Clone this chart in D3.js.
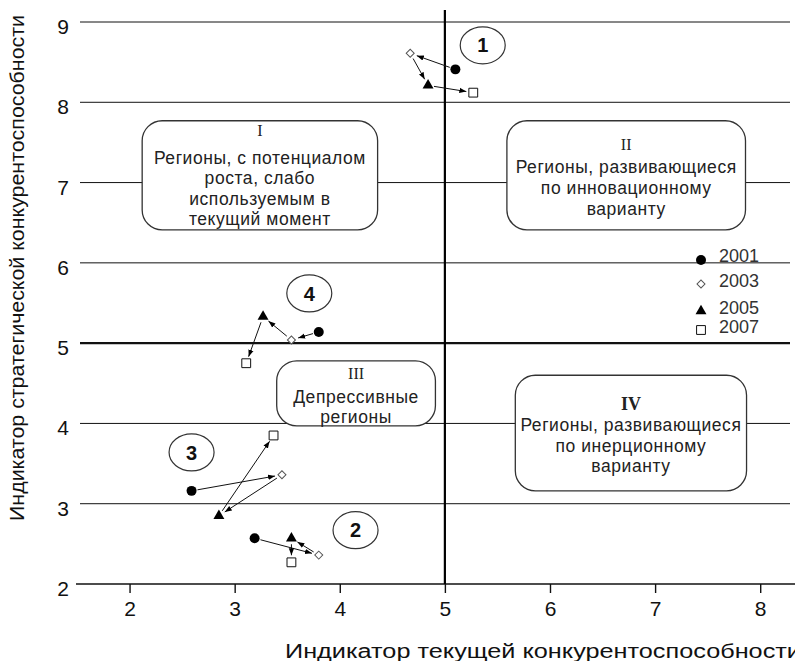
<!DOCTYPE html>
<html>
<head>
<meta charset="utf-8">
<script src="https://cdn.jsdelivr.net/npm/d3@7"></script>
<style>
  body { margin: 0; background: #fff; }
  svg { display: block; font-family: "Liberation Sans", Arial, sans-serif; }
</style>
</head>
<body>
<svg id="chart"></svg>
<script>
// ---- data ----
var years = [2001, 2003, 2005, 2007];
var regionIds = ["1", "2", "3", "4"];

// indicator of current competitiveness (x) per year
var region1X = [5.10, 4.67, 4.84, 5.27];
var region2X = [3.19, 3.80, 3.54, 3.54];
var region3X = [2.59, 3.45, 2.85, 3.37];
var region4X = [3.80, 3.54, 3.27, 3.11];

// indicator of strategic competitiveness (y) per year
var region1Y = [8.41, 8.61, 8.21, 8.12];
var region2Y = [2.57, 2.36, 2.57, 2.27];
var region3Y = [3.16, 3.36, 2.85, 3.85];
var region4Y = [5.14, 5.04, 5.33, 4.75];

var xTicks = [2, 3, 4, 5, 6, 7, 8];
var yTicks = [2, 3, 4, 5, 6, 7, 8, 9];
var xSplit = 5, ySplit = 5;

var quadNumerals = ["I", "II", "III", "IV"];
var quadText = [
  ["Регионы, с потенциалом", "роста, слабо", "используемым в", "текущий момент"],
  ["Регионы, развивающиеся", "по инновационному", "варианту"],
  ["Депрессивные", "регионы"],
  ["Регионы, развивающиеся", "по инерционному", "варианту"]
];

var xTitle = "Индикатор текущей конкурентоспособности";
var yTitle = "Индикатор стратегической конкурентоспособности";

// ---- layout ----
var W = 795, H = 661;

var x = d3.scaleLinear().domain([1.5, 8.35]).range([77, 797]);
var y = d3.scaleLinear().domain([2, 9]).range([584, 22]);

// annotation boxes, in data units (left, right, top, bottom)
var boxes = [
  {l: 2.12, r: 4.36, t: 7.77, b: 6.41, numY: 10, lineY: 37, step: 20.5, bold: false},
  {l: 5.59, r: 7.86, t: 7.77, b: 6.41, numY: 24, lineY: 46, step: 21, bold: false},
  {l: 3.40, r: 4.91, t: 4.78, b: 3.97, numY: 13, lineY: 36, step: 20, bold: false},
  {l: 5.67, r: 7.87, t: 4.60, b: 3.16, numY: 28, lineY: 50, step: 20.5, bold: true}
];
// numbered ellipse labels, data units
var labelX = [5.36, 4.15, 2.59, 3.71];
var labelY = [8.71, 2.67, 3.64, 5.62];

var series = regionIds.map(function(id, i) {
  var xs = [region1X, region2X, region3X, region4X][i];
  var ys = [region1Y, region2Y, region3Y, region4Y][i];
  return {id: id, pts: years.map(function(yr, j) { return {year: yr, x: xs[j], y: ys[j]}; })};
});

var svg = d3.select("#chart").attr("width", W).attr("height", H);

svg.append("defs").append("marker")
  .attr("id", "arrow")
  .attr("viewBox", "0 0 10 10")
  .attr("refX", 10).attr("refY", 5)
  .attr("markerWidth", 7).attr("markerHeight", 7)
  .attr("orient", "auto")
  .append("path")
  .attr("d", "M0,1.2L10,5L0,8.8Z")
  .attr("fill", "#000");

var gridLeft = 80, gridRight = 790;

// horizontal grid lines
svg.append("g").selectAll("line")
  .data(yTicks.filter(function(d) { return d > 2; }))
  .enter().append("line")
  .attr("x1", gridLeft).attr("x2", gridRight)
  .attr("y1", function(d) { return y(d); })
  .attr("y2", function(d) { return y(d); })
  .attr("stroke", "#111")
  .attr("stroke-width", function(d) { return d === ySplit ? 2.2 : 1; });

// bottom axis line
svg.append("line")
  .attr("x1", 76).attr("x2", W)
  .attr("y1", y(2)).attr("y2", y(2))
  .attr("stroke", "#111").attr("stroke-width", 1.6);

// vertical split line
svg.append("line")
  .attr("x1", x(xSplit)).attr("x2", x(xSplit))
  .attr("y1", 10).attr("y2", y(2))
  .attr("stroke", "#000").attr("stroke-width", 2.2);

// x axis
var gx = svg.append("g")
  .attr("transform", "translate(0," + y(2) + ")")
  .call(d3.axisBottom(x).tickValues(xTicks).tickSize(9).tickPadding(8).tickFormat(d3.format("d")));
gx.select(".domain").remove();
gx.selectAll(".tick line").attr("stroke", "#111").attr("stroke-width", 1.4);
gx.selectAll("text").style("font-size", "21px").attr("fill", "#111");

// y axis labels
var gy = svg.append("g")
  .attr("transform", "translate(" + gridLeft + ",0)")
  .call(d3.axisLeft(y).tickValues(yTicks).tickSize(0).tickPadding(11).tickFormat(d3.format("d")));
gy.select(".domain").remove();
gy.selectAll("text").style("font-size", "21px").attr("fill", "#111").attr("dy", "0.55em");

// axis titles
svg.append("text")
  .attr("x", 285).attr("y", 658)
  .attr("textLength", 516).attr("lengthAdjust", "spacingAndGlyphs")
  .style("font-size", "20px").attr("fill", "#111")
  .text(xTitle);

svg.append("text")
  .attr("transform", "translate(24," + ((15 + 521) / 2) + ") rotate(-90)")
  .attr("text-anchor", "middle")
  .attr("textLength", 506).attr("lengthAdjust", "spacingAndGlyphs")
  .style("font-size", "19.5px").attr("fill", "#111")
  .text(yTitle);

// quadrant boxes
boxes.forEach(function(b, i) {
  var g = svg.append("g");
  var left = x(b.l), right = x(b.r), top = y(b.t), bottom = y(b.b);
  var cx = (left + right) / 2;
  g.append("rect")
    .attr("x", left).attr("y", top)
    .attr("width", right - left).attr("height", bottom - top)
    .attr("rx", 20).attr("ry", 20)
    .attr("fill", "#fff").attr("stroke", "#333").attr("stroke-width", 1.3);
  g.append("text")
    .attr("x", cx).attr("y", top + b.numY)
    .attr("text-anchor", "middle").attr("dy", "0.35em")
    .style("font-family", "'Liberation Serif', 'DejaVu Serif', serif")
    .style("font-size", b.bold ? "18px" : "16px")
    .style("font-weight", b.bold ? "bold" : "normal")
    .attr("fill", "#222")
    .text(quadNumerals[i]);
  g.selectAll("text.line")
    .data(quadText[i])
    .enter().append("text")
    .attr("class", "line")
    .attr("x", cx)
    .attr("y", function(d, k) { return top + b.lineY + k * b.step; })
    .attr("text-anchor", "middle").attr("dy", "0.35em")
    .style("font-size", "17.5px").style("letter-spacing", "0.55px").attr("fill", "#222")
    .text(function(d) { return d; });
});

// arrows between consecutive years
var arrowG = svg.append("g");
series.forEach(function(s) {
  for (var j = 0; j < s.pts.length - 1; j++) {
    var a = s.pts[j], b = s.pts[j + 1];
    var x0 = x(a.x), y0 = y(a.y), x1 = x(b.x), y1 = y(b.y);
    var dx = x1 - x0, dy = y1 - y0, len = Math.sqrt(dx * dx + dy * dy);
    var ux = dx / len, uy = dy / len;
    arrowG.append("line")
      .attr("x1", x0 + ux * 6).attr("y1", y0 + uy * 6)
      .attr("x2", x1 - ux * 7).attr("y2", y1 - uy * 7)
      .attr("stroke", "#111").attr("stroke-width", 1)
      .attr("marker-end", "url(#arrow)");
  }
});

// symbols per year
var symbolFor = {
  2001: {type: d3.symbolCircle, size: 78, fill: "#000", stroke: "none", rot: 0},
  2003: {type: d3.symbolSquare, size: 32, fill: "#fff", stroke: "#555", rot: 45},
  2005: {type: d3.symbolTriangle, size: 52, fill: "#000", stroke: "none", rot: 0},
  2007: {type: d3.symbolSquare, size: 78, fill: "#fff", stroke: "#111", rot: 0}
};

function drawSymbol(sel, year) {
  var st = symbolFor[year];
  sel.attr("d", d3.symbol().type(st.type).size(st.size)())
    .attr("fill", st.fill)
    .attr("stroke", st.stroke)
    .attr("stroke-width", 1);
}

var pointsG = svg.append("g");
series.forEach(function(s) {
  pointsG.selectAll(null)
    .data(s.pts)
    .enter().append("path")
    .attr("transform", function(d) {
      return "translate(" + x(d.x) + "," + y(d.y) + ") rotate(" + symbolFor[d.year].rot + ")";
    })
    .each(function(d) { drawSymbol(d3.select(this), d.year); });
});

// numbered region labels
var lab = svg.append("g").selectAll("g")
  .data(regionIds)
  .enter().append("g")
  .attr("transform", function(d, i) { return "translate(" + x(labelX[i]) + "," + y(labelY[i]) + ")"; });
lab.append("ellipse")
  .attr("rx", 22.5).attr("ry", 18.5)
  .attr("fill", "#fff").attr("stroke", "#333").attr("stroke-width", 1.2);
lab.append("text")
  .attr("text-anchor", "middle").attr("dy", "0.36em")
  .style("font-size", "20px").style("font-weight", "bold").attr("fill", "#111")
  .text(function(d) { return d; });

// legend
var legendX = 701, legendTextX = 719;
var legendRowY = [258, 283, 310, 329];
var legend = svg.append("g").selectAll("g")
  .data(years)
  .enter().append("g");
legend.append("path")
  .attr("transform", function(d, i) {
    return "translate(" + legendX + "," + (legendRowY[i] + (i === 0 ? 2 : 1)) + ") rotate(" + symbolFor[d].rot + ")";
  })
  .each(function(d) { drawSymbol(d3.select(this), d); });
legend.append("text")
  .attr("x", legendTextX)
  .attr("y", function(d, i) { return legendRowY[i] - 2; })
  .attr("dy", "0.35em")
  .style("font-size", "18px").attr("fill", "#333")
  .text(function(d) { return d; });
</script>
</body>
</html>
